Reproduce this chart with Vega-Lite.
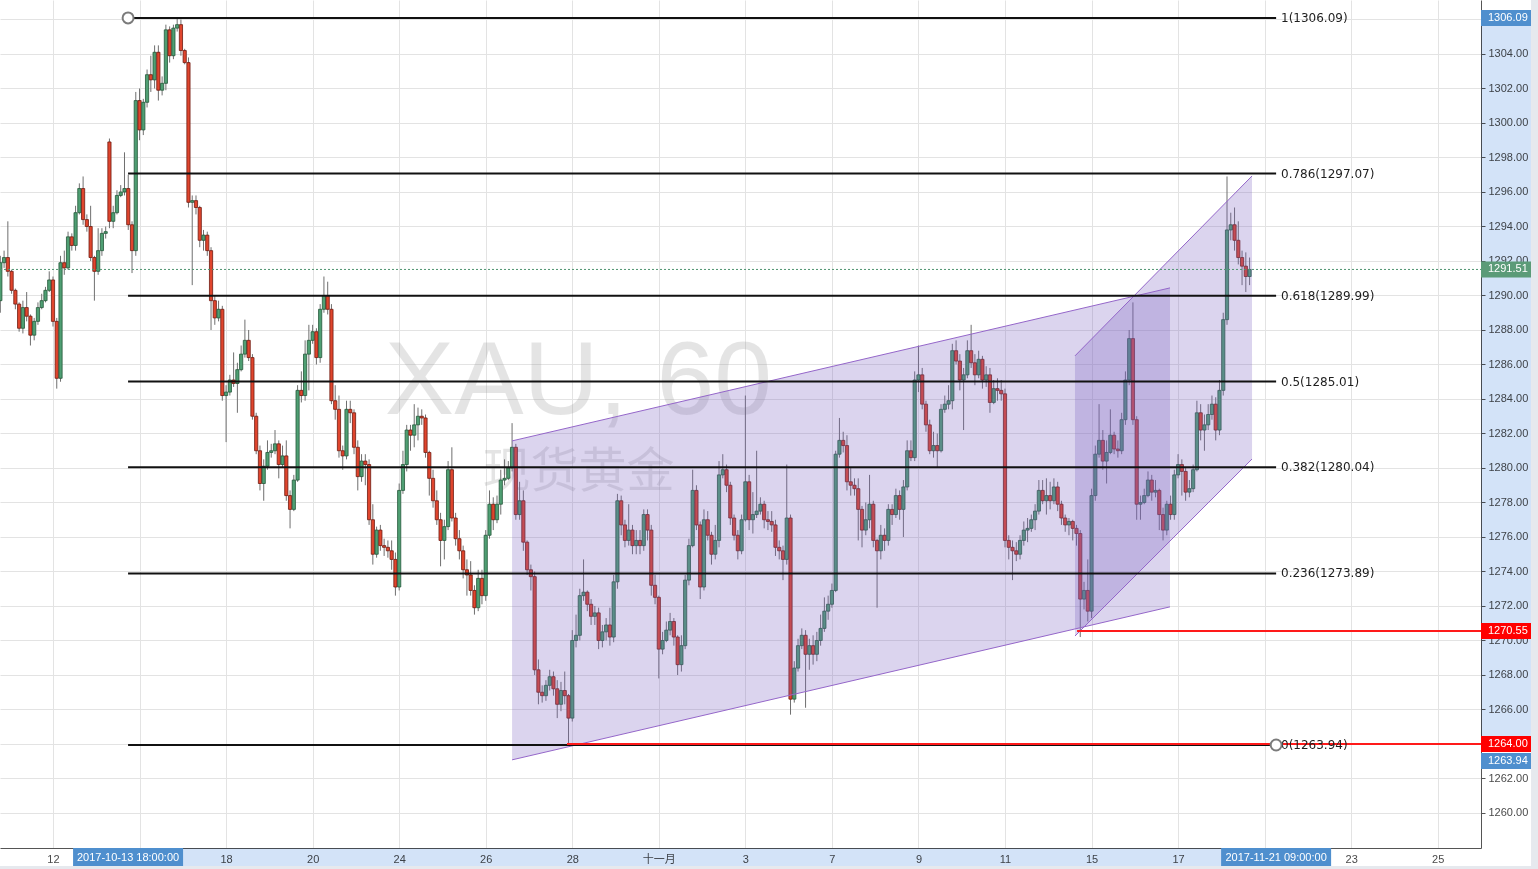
{
"$schema":"https://vega.github.io/schema/vega-lite/v6.json",
"width":1481,"height":848,
"autosize":{"type":"none"},
"padding":{"left":0,"top":0,"right":57,"bottom":21},
"background":"#ffffff",
"config":{"view":{"stroke":null},"axis":{"title":null,"domainColor":"#555555","tickColor":"#555555","labelColor":"#4a4a4a","labelFont":"Liberation Sans, Noto Sans CJK SC","labelFontSize":11,"gridColor":"#e3e3e3","gridWidth":1,"labelOverlap":false},"axisY":{"labelOverlap":false,"labelBound":false}},
"datasets":{
"candles":[
{"t":-28,"o":1289.7,"h":1292.3,"l":1289.0,"c":1291.9},
{"t":-26,"o":1291.9,"h":1292.6,"l":1291.6,"c":1292.2},
{"t":-24,"o":1292.2,"h":1294.3,"l":1291.1,"c":1291.4},
{"t":-22,"o":1291.4,"h":1291.5,"l":1290.1,"c":1290.3},
{"t":-20,"o":1290.3,"h":1290.4,"l":1289.2,"c":1289.5},
{"t":-18,"o":1289.5,"h":1289.6,"l":1287.9,"c":1288.1},
{"t":-16,"o":1288.1,"h":1289.7,"l":1287.8,"c":1289.3},
{"t":-14,"o":1289.3,"h":1290.2,"l":1288.5,"c":1288.8},
{"t":-12,"o":1288.8,"h":1288.9,"l":1287.1,"c":1287.7},
{"t":-10,"o":1287.7,"h":1288.7,"l":1287.4,"c":1288.5},
{"t":-8,"o":1288.5,"h":1289.6,"l":1288.3,"c":1289.3},
{"t":-6,"o":1289.3,"h":1290.1,"l":1289.2,"c":1289.7},
{"t":-4,"o":1289.7,"h":1290.5,"l":1289.6,"c":1290.3},
{"t":-2,"o":1290.3,"h":1291.4,"l":1290.2,"c":1290.9},
{"t":0,"o":1290.9,"h":1291.1,"l":1288.2,"c":1288.5},
{"t":2,"o":1288.5,"h":1288.7,"l":1284.6,"c":1285.2},
{"t":4,"o":1285.2,"h":1292.3,"l":1285.0,"c":1291.9},
{"t":6,"o":1291.9,"h":1292.6,"l":1291.2,"c":1291.6},
{"t":8,"o":1291.6,"h":1293.7,"l":1291.5,"c":1293.4},
{"t":10,"o":1293.4,"h":1293.6,"l":1292.6,"c":1292.9},
{"t":12,"o":1292.9,"h":1295.2,"l":1292.6,"c":1294.8},
{"t":14,"o":1294.8,"h":1296.5,"l":1294.7,"c":1296.2},
{"t":16,"o":1296.2,"h":1296.9,"l":1294.1,"c":1294.4},
{"t":18,"o":1294.4,"h":1294.7,"l":1293.7,"c":1294.0},
{"t":20,"o":1294.0,"h":1295.2,"l":1292.0,"c":1292.2},
{"t":22,"o":1292.2,"h":1292.3,"l":1289.7,"c":1291.4},
{"t":24,"o":1291.4,"h":1293.9,"l":1291.2,"c":1292.6},
{"t":26,"o":1292.6,"h":1293.9,"l":1292.3,"c":1293.6},
{"t":28,"o":1293.6,"h":1294.0,"l":1293.3,"c":1293.7},
{"t":30,"o":1298.9,"h":1299.1,"l":1293.9,"c":1294.3},
{"t":32,"o":1294.3,"h":1295.2,"l":1293.9,"c":1294.8},
{"t":34,"o":1294.8,"h":1296.1,"l":1294.7,"c":1295.8},
{"t":36,"o":1295.8,"h":1296.4,"l":1295.7,"c":1296.0},
{"t":38,"o":1296.0,"h":1298.3,"l":1295.8,"c":1296.2},
{"t":40,"o":1296.2,"h":1297.0,"l":1293.8,"c":1294.1},
{"t":42,"o":1294.1,"h":1294.3,"l":1291.3,"c":1292.6},
{"t":44,"o":1292.6,"h":1301.8,"l":1292.3,"c":1301.3},
{"t":46,"o":1301.3,"h":1302.0,"l":1299.0,"c":1299.6},
{"t":48,"o":1299.6,"h":1301.4,"l":1299.3,"c":1301.2},
{"t":50,"o":1301.2,"h":1303.1,"l":1300.9,"c":1302.8},
{"t":52,"o":1302.8,"h":1303.9,"l":1301.8,"c":1302.5},
{"t":54,"o":1302.5,"h":1304.5,"l":1302.0,"c":1304.1},
{"t":56,"o":1304.1,"h":1304.5,"l":1301.3,"c":1301.9},
{"t":58,"o":1301.9,"h":1302.7,"l":1301.6,"c":1302.3},
{"t":60,"o":1302.3,"h":1305.7,"l":1301.9,"c":1305.4},
{"t":62,"o":1305.4,"h":1305.6,"l":1303.5,"c":1303.9},
{"t":64,"o":1303.9,"h":1305.7,"l":1303.7,"c":1305.5},
{"t":66,"o":1305.5,"h":1306.09,"l":1305.3,"c":1305.7},
{"t":68,"o":1305.7,"h":1306.0,"l":1303.9,"c":1304.2},
{"t":70,"o":1304.2,"h":1304.3,"l":1303.4,"c":1303.5},
{"t":72,"o":1303.5,"h":1303.8,"l":1295.1,"c":1295.4},
{"t":74,"o":1295.4,"h":1295.8,"l":1290.6,"c":1295.5},
{"t":76,"o":1295.5,"h":1295.8,"l":1294.7,"c":1295.1},
{"t":78,"o":1295.1,"h":1295.2,"l":1292.8,"c":1293.2},
{"t":80,"o":1293.2,"h":1293.8,"l":1292.6,"c":1293.5},
{"t":82,"o":1293.5,"h":1293.7,"l":1292.3,"c":1292.6},
{"t":84,"o":1292.6,"h":1292.8,"l":1288.0,"c":1289.7},
{"t":86,"o":1289.7,"h":1290.0,"l":1288.3,"c":1288.7},
{"t":88,"o":1288.7,"h":1289.7,"l":1288.5,"c":1289.2},
{"t":90,"o":1289.2,"h":1289.4,"l":1283.9,"c":1284.2},
{"t":92,"o":1284.2,"h":1284.8,"l":1281.5,"c":1284.4},
{"t":94,"o":1284.4,"h":1285.4,"l":1284.2,"c":1285.1},
{"t":96,"o":1285.1,"h":1286.7,"l":1284.7,"c":1284.9},
{"t":98,"o":1284.9,"h":1286.1,"l":1283.2,"c":1285.7},
{"t":100,"o":1285.7,"h":1287.1,"l":1285.6,"c":1286.6},
{"t":102,"o":1286.6,"h":1288.6,"l":1286.4,"c":1287.4},
{"t":104,"o":1287.4,"h":1288.0,"l":1286.2,"c":1286.4},
{"t":106,"o":1286.4,"h":1286.6,"l":1282.8,"c":1283.0},
{"t":108,"o":1283.0,"h":1283.2,"l":1280.8,"c":1281.0},
{"t":110,"o":1281.0,"h":1281.3,"l":1278.7,"c":1279.1},
{"t":112,"o":1279.1,"h":1280.5,"l":1278.1,"c":1280.1},
{"t":114,"o":1280.1,"h":1281.6,"l":1279.9,"c":1280.9},
{"t":116,"o":1280.9,"h":1281.4,"l":1280.6,"c":1281.0},
{"t":118,"o":1281.0,"h":1282.2,"l":1280.8,"c":1281.4},
{"t":120,"o":1281.4,"h":1281.6,"l":1279.4,"c":1280.2},
{"t":122,"o":1280.2,"h":1281.3,"l":1280.0,"c":1280.7},
{"t":124,"o":1280.7,"h":1281.6,"l":1278.1,"c":1278.4},
{"t":126,"o":1278.4,"h":1278.7,"l":1276.5,"c":1277.6},
{"t":128,"o":1277.6,"h":1279.6,"l":1277.5,"c":1279.3},
{"t":130,"o":1279.3,"h":1284.8,"l":1279.2,"c":1284.5},
{"t":132,"o":1284.5,"h":1285.6,"l":1283.8,"c":1284.2},
{"t":134,"o":1284.2,"h":1287.4,"l":1283.9,"c":1286.6},
{"t":136,"o":1286.6,"h":1288.3,"l":1284.5,"c":1287.4},
{"t":138,"o":1287.4,"h":1288.3,"l":1287.2,"c":1287.9},
{"t":140,"o":1287.9,"h":1288.1,"l":1286.0,"c":1286.4},
{"t":142,"o":1286.4,"h":1289.5,"l":1286.1,"c":1289.2},
{"t":144,"o":1289.2,"h":1291.1,"l":1289.0,"c":1290.0},
{"t":146,"o":1290.0,"h":1290.8,"l":1288.9,"c":1289.2},
{"t":148,"o":1289.2,"h":1289.5,"l":1283.7,"c":1283.9},
{"t":150,"o":1283.9,"h":1284.8,"l":1282.8,"c":1283.4},
{"t":152,"o":1283.4,"h":1284.2,"l":1280.6,"c":1281.0},
{"t":154,"o":1281.0,"h":1281.3,"l":1279.9,"c":1280.7},
{"t":156,"o":1280.7,"h":1283.9,"l":1280.5,"c":1283.4},
{"t":158,"o":1283.4,"h":1283.9,"l":1282.6,"c":1283.2},
{"t":160,"o":1283.2,"h":1283.4,"l":1280.8,"c":1281.2},
{"t":162,"o":1281.2,"h":1281.6,"l":1278.7,"c":1279.5},
{"t":164,"o":1279.5,"h":1280.8,"l":1279.2,"c":1280.4},
{"t":166,"o":1280.4,"h":1280.8,"l":1279.0,"c":1280.2},
{"t":168,"o":1280.2,"h":1280.5,"l":1276.7,"c":1277.0},
{"t":170,"o":1277.0,"h":1277.9,"l":1274.4,"c":1275.0},
{"t":172,"o":1275.0,"h":1276.6,"l":1274.8,"c":1276.4},
{"t":174,"o":1276.4,"h":1276.7,"l":1275.2,"c":1275.5},
{"t":176,"o":1275.5,"h":1275.9,"l":1274.9,"c":1275.4},
{"t":178,"o":1275.4,"h":1275.8,"l":1274.8,"c":1275.2},
{"t":180,"o":1275.2,"h":1275.8,"l":1274.1,"c":1274.7},
{"t":182,"o":1274.7,"h":1275.1,"l":1272.6,"c":1273.1},
{"t":184,"o":1273.1,"h":1279.1,"l":1272.9,"c":1278.7},
{"t":186,"o":1278.7,"h":1281.0,"l":1278.5,"c":1280.2},
{"t":188,"o":1280.2,"h":1282.5,"l":1279.8,"c":1282.2},
{"t":190,"o":1282.2,"h":1282.5,"l":1281.0,"c":1281.9},
{"t":192,"o":1281.9,"h":1283.7,"l":1281.2,"c":1282.5},
{"t":194,"o":1282.5,"h":1283.5,"l":1281.6,"c":1283.0},
{"t":196,"o":1283.0,"h":1283.4,"l":1282.5,"c":1282.9},
{"t":198,"o":1282.9,"h":1283.1,"l":1280.6,"c":1280.9},
{"t":200,"o":1280.9,"h":1281.0,"l":1278.4,"c":1279.4},
{"t":202,"o":1279.4,"h":1279.9,"l":1277.7,"c":1278.1},
{"t":204,"o":1278.1,"h":1278.7,"l":1276.7,"c":1277.0},
{"t":206,"o":1277.0,"h":1277.4,"l":1274.3,"c":1275.8},
{"t":208,"o":1275.8,"h":1277.0,"l":1274.7,"c":1276.6},
{"t":210,"o":1276.6,"h":1280.4,"l":1276.4,"c":1279.9},
{"t":212,"o":1279.9,"h":1281.2,"l":1276.9,"c":1277.1},
{"t":214,"o":1277.1,"h":1277.4,"l":1275.5,"c":1275.9},
{"t":216,"o":1275.9,"h":1276.4,"l":1274.7,"c":1275.2},
{"t":218,"o":1275.2,"h":1275.5,"l":1273.6,"c":1274.1},
{"t":220,"o":1274.1,"h":1274.7,"l":1272.6,"c":1273.8},
{"t":222,"o":1273.8,"h":1274.6,"l":1272.6,"c":1272.9},
{"t":224,"o":1272.9,"h":1273.2,"l":1271.5,"c":1271.9},
{"t":226,"o":1271.9,"h":1274.1,"l":1271.7,"c":1273.6},
{"t":228,"o":1273.6,"h":1274.1,"l":1272.1,"c":1272.6},
{"t":230,"o":1272.6,"h":1276.4,"l":1272.3,"c":1276.1},
{"t":232,"o":1276.1,"h":1278.7,"l":1275.9,"c":1277.9},
{"t":234,"o":1277.9,"h":1278.3,"l":1276.4,"c":1277.0},
{"t":236,"o":1277.0,"h":1278.4,"l":1276.8,"c":1277.9},
{"t":238,"o":1277.9,"h":1279.9,"l":1277.3,"c":1279.3},
{"t":240,"o":1279.3,"h":1280.5,"l":1279.0,"c":1279.4},
{"t":242,"o":1279.4,"h":1280.4,"l":1279.3,"c":1280.0},
{"t":244,"o":1280.0,"h":1282.6,"l":1279.8,"c":1281.2},
{"t":246,"o":1281.2,"h":1281.4,"l":1277.0,"c":1277.3},
{"t":248,"o":1277.3,"h":1279.2,"l":1277.0,"c":1278.1},
{"t":250,"o":1278.1,"h":1278.7,"l":1275.2,"c":1275.7},
{"t":252,"o":1275.7,"h":1275.8,"l":1273.8,"c":1274.1},
{"t":254,"o":1274.1,"h":1274.4,"l":1272.9,"c":1273.7},
{"t":256,"o":1273.7,"h":1274.0,"l":1268.0,"c":1268.3},
{"t":258,"o":1268.3,"h":1268.9,"l":1266.3,"c":1267.0},
{"t":260,"o":1267.0,"h":1267.4,"l":1266.4,"c":1266.8},
{"t":262,"o":1266.8,"h":1267.7,"l":1266.5,"c":1267.4},
{"t":264,"o":1267.4,"h":1268.3,"l":1267.1,"c":1267.9},
{"t":266,"o":1267.9,"h":1268.2,"l":1266.8,"c":1267.2},
{"t":268,"o":1267.2,"h":1267.7,"l":1265.5,"c":1266.3},
{"t":270,"o":1266.3,"h":1267.6,"l":1265.9,"c":1267.1},
{"t":272,"o":1267.1,"h":1268.2,"l":1266.3,"c":1266.8},
{"t":274,"o":1266.8,"h":1266.9,"l":1263.94,"c":1265.5},
{"t":276,"o":1265.5,"h":1270.6,"l":1265.3,"c":1270.0},
{"t":278,"o":1270.0,"h":1271.5,"l":1269.6,"c":1270.3},
{"t":280,"o":1270.3,"h":1273.0,"l":1270.0,"c":1272.6},
{"t":282,"o":1272.6,"h":1274.7,"l":1272.3,"c":1272.8},
{"t":284,"o":1272.8,"h":1272.9,"l":1271.7,"c":1272.1},
{"t":286,"o":1272.1,"h":1272.4,"l":1270.9,"c":1271.4},
{"t":288,"o":1271.4,"h":1272.0,"l":1270.9,"c":1271.6},
{"t":290,"o":1271.6,"h":1271.9,"l":1269.5,"c":1270.0},
{"t":292,"o":1270.0,"h":1270.9,"l":1269.6,"c":1270.5},
{"t":294,"o":1270.5,"h":1271.3,"l":1270.0,"c":1270.9},
{"t":296,"o":1270.9,"h":1271.9,"l":1269.7,"c":1270.2},
{"t":298,"o":1270.2,"h":1273.8,"l":1269.9,"c":1273.4},
{"t":300,"o":1273.4,"h":1278.5,"l":1273.0,"c":1278.1},
{"t":302,"o":1278.1,"h":1278.4,"l":1276.1,"c":1276.7},
{"t":304,"o":1276.7,"h":1277.0,"l":1275.4,"c":1275.8},
{"t":306,"o":1275.8,"h":1277.9,"l":1275.5,"c":1276.4},
{"t":308,"o":1276.4,"h":1276.7,"l":1275.0,"c":1275.5},
{"t":310,"o":1275.5,"h":1276.4,"l":1275.0,"c":1275.8},
{"t":312,"o":1275.8,"h":1276.4,"l":1275.0,"c":1275.5},
{"t":314,"o":1275.5,"h":1277.6,"l":1275.2,"c":1277.3},
{"t":316,"o":1277.3,"h":1277.6,"l":1275.8,"c":1276.4},
{"t":318,"o":1276.4,"h":1276.7,"l":1272.6,"c":1273.2},
{"t":320,"o":1273.2,"h":1273.8,"l":1272.1,"c":1272.5},
{"t":322,"o":1272.5,"h":1272.6,"l":1267.8,"c":1269.5},
{"t":324,"o":1269.5,"h":1270.5,"l":1269.2,"c":1270.0},
{"t":326,"o":1270.0,"h":1271.1,"l":1269.9,"c":1270.6},
{"t":328,"o":1270.6,"h":1271.6,"l":1270.3,"c":1271.1},
{"t":330,"o":1271.1,"h":1271.3,"l":1269.7,"c":1270.2},
{"t":332,"o":1270.2,"h":1270.3,"l":1268.0,"c":1268.6},
{"t":334,"o":1268.6,"h":1270.3,"l":1268.2,"c":1269.7},
{"t":336,"o":1269.7,"h":1273.8,"l":1269.5,"c":1273.5},
{"t":338,"o":1273.5,"h":1275.9,"l":1273.2,"c":1275.5},
{"t":340,"o":1275.5,"h":1279.9,"l":1275.4,"c":1278.7},
{"t":342,"o":1278.7,"h":1279.0,"l":1276.4,"c":1276.7},
{"t":344,"o":1276.7,"h":1276.9,"l":1272.4,"c":1273.1},
{"t":346,"o":1273.1,"h":1277.6,"l":1272.9,"c":1277.0},
{"t":348,"o":1277.0,"h":1277.5,"l":1275.8,"c":1276.1},
{"t":350,"o":1276.1,"h":1276.3,"l":1274.4,"c":1275.0},
{"t":352,"o":1275.0,"h":1276.7,"l":1274.7,"c":1275.8},
{"t":354,"o":1275.8,"h":1280.4,"l":1275.4,"c":1279.6},
{"t":356,"o":1279.6,"h":1280.8,"l":1279.4,"c":1279.9},
{"t":358,"o":1279.9,"h":1280.2,"l":1278.6,"c":1279.0},
{"t":360,"o":1279.0,"h":1279.2,"l":1276.7,"c":1277.1},
{"t":362,"o":1277.1,"h":1277.3,"l":1275.8,"c":1276.1},
{"t":364,"o":1276.1,"h":1276.4,"l":1274.7,"c":1275.2},
{"t":366,"o":1275.2,"h":1277.3,"l":1275.0,"c":1277.0},
{"t":368,"o":1277.0,"h":1284.2,"l":1276.9,"c":1279.2},
{"t":370,"o":1279.2,"h":1279.6,"l":1276.4,"c":1277.0},
{"t":372,"o":1277.0,"h":1278.6,"l":1276.2,"c":1277.3},
{"t":374,"o":1277.3,"h":1281.0,"l":1277.1,"c":1277.5},
{"t":376,"o":1277.5,"h":1278.3,"l":1277.3,"c":1277.9},
{"t":378,"o":1277.9,"h":1278.1,"l":1276.5,"c":1277.0},
{"t":380,"o":1277.0,"h":1277.5,"l":1276.4,"c":1276.9},
{"t":382,"o":1276.9,"h":1277.5,"l":1276.3,"c":1276.7},
{"t":384,"o":1276.7,"h":1277.0,"l":1274.9,"c":1275.4},
{"t":386,"o":1275.4,"h":1275.8,"l":1274.7,"c":1275.2},
{"t":388,"o":1275.2,"h":1275.5,"l":1273.5,"c":1274.7},
{"t":390,"o":1274.7,"h":1280.2,"l":1274.4,"c":1277.1},
{"t":392,"o":1277.1,"h":1277.3,"l":1265.7,"c":1266.6},
{"t":394,"o":1266.6,"h":1268.8,"l":1266.4,"c":1268.4},
{"t":396,"o":1268.4,"h":1270.1,"l":1268.2,"c":1269.7},
{"t":398,"o":1269.7,"h":1270.7,"l":1269.5,"c":1270.3},
{"t":400,"o":1270.3,"h":1270.6,"l":1266.1,"c":1269.2},
{"t":402,"o":1269.2,"h":1270.1,"l":1268.3,"c":1269.7},
{"t":404,"o":1269.7,"h":1270.3,"l":1268.6,"c":1269.2},
{"t":406,"o":1269.2,"h":1270.5,"l":1268.8,"c":1270.0},
{"t":408,"o":1270.0,"h":1271.5,"l":1269.7,"c":1270.7},
{"t":410,"o":1270.7,"h":1272.5,"l":1270.5,"c":1271.7},
{"t":412,"o":1271.7,"h":1272.6,"l":1271.2,"c":1272.1},
{"t":414,"o":1272.1,"h":1273.3,"l":1271.9,"c":1272.9},
{"t":416,"o":1272.9,"h":1281.0,"l":1272.8,"c":1280.8},
{"t":418,"o":1280.8,"h":1282.9,"l":1280.6,"c":1281.6},
{"t":420,"o":1281.6,"h":1282.1,"l":1280.9,"c":1281.3},
{"t":422,"o":1281.3,"h":1281.9,"l":1278.7,"c":1279.2},
{"t":424,"o":1279.2,"h":1280.0,"l":1278.4,"c":1279.0},
{"t":426,"o":1279.0,"h":1279.4,"l":1278.4,"c":1278.8},
{"t":428,"o":1278.8,"h":1279.4,"l":1275.8,"c":1277.6},
{"t":430,"o":1277.6,"h":1277.8,"l":1275.4,"c":1276.4},
{"t":432,"o":1276.4,"h":1278.0,"l":1276.1,"c":1277.0},
{"t":434,"o":1277.0,"h":1279.6,"l":1276.5,"c":1277.9},
{"t":436,"o":1277.9,"h":1278.1,"l":1275.4,"c":1275.8},
{"t":438,"o":1275.8,"h":1275.9,"l":1271.9,"c":1275.2},
{"t":440,"o":1275.2,"h":1276.7,"l":1274.7,"c":1276.1},
{"t":442,"o":1276.1,"h":1276.5,"l":1275.2,"c":1275.8},
{"t":444,"o":1275.8,"h":1277.9,"l":1275.5,"c":1277.6},
{"t":446,"o":1277.6,"h":1277.9,"l":1276.7,"c":1277.3},
{"t":448,"o":1277.3,"h":1278.8,"l":1277.1,"c":1278.4},
{"t":450,"o":1278.4,"h":1278.7,"l":1277.0,"c":1277.6},
{"t":452,"o":1277.6,"h":1279.3,"l":1276.0,"c":1278.9},
{"t":454,"o":1278.9,"h":1281.6,"l":1278.7,"c":1281.0},
{"t":456,"o":1281.0,"h":1281.6,"l":1280.4,"c":1280.6},
{"t":458,"o":1280.6,"h":1285.6,"l":1280.4,"c":1285.1},
{"t":460,"o":1285.1,"h":1287.1,"l":1284.4,"c":1285.4},
{"t":462,"o":1285.4,"h":1285.8,"l":1283.4,"c":1283.7},
{"t":464,"o":1283.7,"h":1283.9,"l":1282.1,"c":1282.5},
{"t":466,"o":1282.5,"h":1282.8,"l":1280.8,"c":1281.0},
{"t":468,"o":1281.0,"h":1282.1,"l":1280.6,"c":1281.3},
{"t":470,"o":1281.3,"h":1282.0,"l":1280.0,"c":1281.0},
{"t":472,"o":1281.0,"h":1283.7,"l":1280.9,"c":1283.4},
{"t":474,"o":1283.4,"h":1284.2,"l":1283.2,"c":1283.7},
{"t":476,"o":1283.7,"h":1284.8,"l":1283.4,"c":1283.9},
{"t":478,"o":1283.9,"h":1287.2,"l":1283.4,"c":1286.8},
{"t":480,"o":1286.8,"h":1287.4,"l":1286.0,"c":1286.2},
{"t":482,"o":1286.2,"h":1286.6,"l":1284.5,"c":1285.1},
{"t":484,"o":1285.1,"h":1285.8,"l":1282.2,"c":1285.4},
{"t":486,"o":1285.4,"h":1287.4,"l":1285.2,"c":1286.8},
{"t":488,"o":1286.8,"h":1288.3,"l":1285.8,"c":1286.1},
{"t":490,"o":1286.1,"h":1286.6,"l":1284.8,"c":1285.4},
{"t":492,"o":1285.4,"h":1286.8,"l":1285.2,"c":1286.3},
{"t":494,"o":1286.3,"h":1286.5,"l":1284.6,"c":1285.1},
{"t":496,"o":1285.1,"h":1285.9,"l":1284.7,"c":1285.4},
{"t":498,"o":1285.4,"h":1285.8,"l":1283.2,"c":1283.8},
{"t":500,"o":1283.8,"h":1285.1,"l":1283.7,"c":1284.6},
{"t":502,"o":1284.6,"h":1285.2,"l":1283.9,"c":1284.5},
{"t":504,"o":1284.5,"h":1285.1,"l":1283.9,"c":1284.3},
{"t":506,"o":1284.3,"h":1284.6,"l":1275.4,"c":1275.8},
{"t":508,"o":1275.8,"h":1276.1,"l":1274.7,"c":1275.4},
{"t":510,"o":1275.4,"h":1275.8,"l":1273.5,"c":1275.2},
{"t":512,"o":1275.2,"h":1275.7,"l":1274.6,"c":1275.0},
{"t":514,"o":1275.0,"h":1276.1,"l":1274.7,"c":1275.8},
{"t":516,"o":1275.8,"h":1276.9,"l":1275.5,"c":1276.4},
{"t":518,"o":1276.4,"h":1277.1,"l":1275.7,"c":1276.5},
{"t":520,"o":1276.5,"h":1277.3,"l":1276.3,"c":1277.0},
{"t":522,"o":1277.0,"h":1277.9,"l":1276.4,"c":1277.5},
{"t":524,"o":1277.5,"h":1279.3,"l":1277.3,"c":1278.7},
{"t":526,"o":1278.7,"h":1279.3,"l":1277.9,"c":1278.1},
{"t":528,"o":1278.1,"h":1279.4,"l":1277.3,"c":1278.4},
{"t":530,"o":1278.4,"h":1279.2,"l":1277.6,"c":1278.1},
{"t":532,"o":1278.1,"h":1279.4,"l":1277.9,"c":1278.9},
{"t":534,"o":1278.9,"h":1279.2,"l":1277.5,"c":1277.9},
{"t":536,"o":1277.9,"h":1278.1,"l":1276.7,"c":1277.1},
{"t":538,"o":1277.1,"h":1277.3,"l":1276.3,"c":1276.7},
{"t":540,"o":1276.7,"h":1277.1,"l":1276.1,"c":1276.9},
{"t":542,"o":1276.9,"h":1277.0,"l":1275.8,"c":1276.5},
{"t":544,"o":1276.5,"h":1276.7,"l":1275.5,"c":1276.2},
{"t":546,"o":1276.2,"h":1276.4,"l":1270.2,"c":1272.4},
{"t":548,"o":1272.4,"h":1273.4,"l":1271.8,"c":1272.9},
{"t":550,"o":1272.9,"h":1274.7,"l":1271.1,"c":1271.7},
{"t":552,"o":1271.7,"h":1278.8,"l":1271.3,"c":1278.4},
{"t":554,"o":1278.4,"h":1281.3,"l":1278.1,"c":1280.8},
{"t":556,"o":1280.8,"h":1283.7,"l":1280.6,"c":1281.6},
{"t":558,"o":1281.6,"h":1282.2,"l":1279.9,"c":1280.4},
{"t":560,"o":1280.4,"h":1281.6,"l":1279.1,"c":1280.9},
{"t":562,"o":1280.9,"h":1283.4,"l":1280.8,"c":1281.9},
{"t":564,"o":1281.9,"h":1282.1,"l":1280.8,"c":1281.1},
{"t":566,"o":1281.1,"h":1281.6,"l":1280.6,"c":1281.0},
{"t":568,"o":1281.0,"h":1283.2,"l":1280.8,"c":1282.8},
{"t":570,"o":1282.8,"h":1285.6,"l":1282.5,"c":1285.1},
{"t":572,"o":1285.1,"h":1288.0,"l":1284.8,"c":1287.5},
{"t":574,"o":1287.5,"h":1289.6,"l":1282.5,"c":1282.8},
{"t":576,"o":1282.8,"h":1283.0,"l":1277.0,"c":1277.9},
{"t":578,"o":1277.9,"h":1278.4,"l":1277.0,"c":1278.0},
{"t":580,"o":1278.0,"h":1278.8,"l":1277.9,"c":1278.4},
{"t":582,"o":1278.4,"h":1279.8,"l":1278.3,"c":1279.3},
{"t":584,"o":1279.3,"h":1279.6,"l":1278.1,"c":1278.6},
{"t":586,"o":1278.6,"h":1279.3,"l":1278.3,"c":1278.7},
{"t":588,"o":1278.7,"h":1278.8,"l":1276.4,"c":1277.3},
{"t":590,"o":1277.3,"h":1277.7,"l":1275.8,"c":1276.4},
{"t":592,"o":1276.4,"h":1278.1,"l":1276.1,"c":1277.9},
{"t":594,"o":1277.9,"h":1278.4,"l":1277.0,"c":1277.3},
{"t":596,"o":1277.3,"h":1279.9,"l":1277.0,"c":1279.6},
{"t":598,"o":1279.6,"h":1280.8,"l":1279.4,"c":1280.2},
{"t":600,"o":1280.2,"h":1280.5,"l":1278.4,"c":1279.8},
{"t":602,"o":1279.8,"h":1280.0,"l":1278.1,"c":1278.6},
{"t":604,"o":1278.6,"h":1279.3,"l":1278.3,"c":1278.8},
{"t":606,"o":1278.8,"h":1280.2,"l":1278.6,"c":1279.9},
{"t":608,"o":1279.9,"h":1283.9,"l":1279.8,"c":1283.2},
{"t":610,"o":1283.2,"h":1283.7,"l":1281.6,"c":1282.2},
{"t":612,"o":1282.2,"h":1283.1,"l":1281.0,"c":1282.5},
{"t":614,"o":1282.5,"h":1283.7,"l":1282.2,"c":1283.1},
{"t":616,"o":1283.1,"h":1284.2,"l":1282.8,"c":1283.7},
{"t":618,"o":1283.7,"h":1284.1,"l":1281.6,"c":1282.2},
{"t":620,"o":1282.2,"h":1285.1,"l":1281.9,"c":1284.5},
{"t":622,"o":1284.5,"h":1289.0,"l":1284.2,"c":1288.6},
{"t":624,"o":1288.6,"h":1296.9,"l":1288.3,"c":1293.8},
{"t":626,"o":1293.8,"h":1294.8,"l":1293.2,"c":1294.1},
{"t":628,"o":1294.1,"h":1295.1,"l":1292.6,"c":1293.2},
{"t":630,"o":1293.2,"h":1294.3,"l":1291.8,"c":1292.2},
{"t":632,"o":1292.2,"h":1292.6,"l":1290.6,"c":1291.7},
{"t":634,"o":1291.7,"h":1292.5,"l":1290.2,"c":1291.1},
{"t":636,"o":1291.1,"h":1292.2,"l":1290.6,"c":1291.51}
],
"fib":[
{"p":1306.09,"lab":"1(1306.09)"},
{"p":1297.07,"lab":"0.786(1297.07)"},
{"p":1289.99,"lab":"0.618(1289.99)"},
{"p":1285.01,"lab":"0.5(1285.01)"},
{"p":1280.04,"lab":"0.382(1280.04)"},
{"p":1273.89,"lab":"0.236(1273.89)"},
{"p":1263.94,"lab":"0(1263.94)"}
],
"channels":[
{"ch":1,"t":244.0,"top":1281.57,"bot":1263.08},
{"ch":1,"t":593.7,"top":1290.44,"bot":1271.95},
{"ch":2,"t":543.2,"top":1286.50,"bot":1270.26},
{"ch":2,"t":637.3,"top":1296.93,"bot":1280.52}
],
"anchors":[
{"t":39.9,"p":1306.09,"lab":"2017-10-13 18:00:00"},
{"t":650.1,"p":1263.94,"lab":"2017-11-21 09:00:00"}
],
"alerts":[
{"p":1270.55,"t0":544.3},
{"p":1264.00,"t0":273.2}
],
"pricetags":[
{"p":1306.09,"lab":"1306.09","kind":"fib"},
{"p":1291.51,"lab":"1291.51","kind":"last"},
{"p":1270.55,"lab":"1270.55","kind":"alert"},
{"p":1264.00,"lab":"1264.00","kind":"alert"}
],
"pricetag2":[
{"p":1263.94,"lab":"1263.94","kind":"fib"}
]
},
"layer":[
{
"data":{"values":[{"t":279.3,"p":1283.13,"lab":"XAU, 60"}]},
"mark":{"type":"text","font":"Liberation Sans","fontSize":104,"align":"center","baseline":"alphabetic","color":"#8a8a8a","opacity":0.22},
"encoding":{
"x":{"field":"t","type":"quantitative","scale":{"domain":[-28.17,759],"nice":false,"zero":false,"padding":0},
"axis":{"orient":"bottom","title":null,"values":[0,46,92,138,184,230,276,322,368,414,460,506,552,598,644,690,736],"tickCount":40,
"labelExpr":"datum.value==0?'12':datum.value==92?'18':datum.value==138?'20':datum.value==184?'24':datum.value==230?'26':datum.value==276?'28':datum.value==322?'十一月':datum.value==368?'3':datum.value==414?'7':datum.value==460?'9':datum.value==506?'11':datum.value==552?'15':datum.value==598?'17':datum.value==690?'23':datum.value==736?'25':''",
"grid":true,"tickSize":0,"labelPadding":5,"labelFlush":false,"labelOverlap":false,"zindex":0}},
"y":{"field":"p","type":"quantitative","scale":{"domain":[1257.97,1307.13],"nice":false,"zero":false,"padding":0},
"axis":{"orient":"right","title":null,"values":[1260,1262,1264,1266,1268,1270,1272,1274,1276,1278,1280,1282,1284,1286,1288,1290,1292,1294,1296,1298,1300,1302,1304,1306],"tickCount":40,
"format":".2f","grid":true,"tickSize":4,"labelPadding":3,"labelFlush":false,"labelOverlap":false,"labelBound":false,"zindex":0}},
"text":{"field":"lab"}
}
},
{
"data":{"values":[{"t":279.3,"p":1278.92,"lab":"现货黄金"}]},
"mark":{"type":"text","font":"Noto Sans CJK SC","fontSize":48,"align":"center","baseline":"alphabetic","color":"#8a8a8a","opacity":0.22},
"encoding":{"x":{"field":"t","type":"quantitative"},"y":{"field":"p","type":"quantitative"},"text":{"field":"lab"}}
},
{
"data":{"name":"candles"},
"mark":{"type":"rule","color":"#6f6f6f","strokeWidth":1,"clip":true},
"encoding":{"x":{"field":"t","type":"quantitative"},"y":{"field":"l","type":"quantitative"},"y2":{"field":"h"}}
},
{
"data":{"name":"candles"},
"mark":{"type":"bar","width":3.2,"strokeWidth":0.8,"clip":true},
"encoding":{
"x":{"field":"t","type":"quantitative"},
"y":{"field":"o","type":"quantitative"},
"y2":{"field":"c"},
"fill":{"condition":{"test":"datum.c >= datum.o","value":"#4f9f73"},"value":"#e0452d"},
"stroke":{"condition":{"test":"datum.c >= datum.o","value":"#24583a"},"value":"#6e1a10"}
}
},
{
"data":{"name":"channels"},
"mark":{"type":"area","color":"#7b5fbf","opacity":0.27},
"encoding":{"x":{"field":"t","type":"quantitative"},"y":{"field":"top","type":"quantitative"},"y2":{"field":"bot"},"detail":{"field":"ch"}}
},
{
"data":{"name":"channels"},
"mark":{"type":"line","color":"#9466c9","strokeWidth":1},
"encoding":{"x":{"field":"t","type":"quantitative"},"y":{"field":"top","type":"quantitative"},"detail":{"field":"ch"}}
},
{
"data":{"name":"channels"},
"mark":{"type":"line","color":"#9466c9","strokeWidth":1},
"encoding":{"x":{"field":"t","type":"quantitative"},"y":{"field":"bot","type":"quantitative"},"detail":{"field":"ch"}}
},
{
"data":{"name":"fib"},
"mark":{"type":"rule","color":"#111111","strokeWidth":2},
"encoding":{"x":{"datum":39.9,"type":"quantitative"},"x2":{"datum":650.1},"y":{"field":"p","type":"quantitative"}}
},
{
"data":{"name":"alerts"},
"mark":{"type":"rule","color":"#ff1a1a","strokeWidth":2},
"encoding":{"x":{"field":"t0","type":"quantitative"},"x2":{"datum":759},"y":{"field":"p","type":"quantitative"}}
},
{
"data":{"values":[{"p":1291.51}]},
"mark":{"type":"rule","color":"#4f9470","strokeWidth":1,"strokeDash":[2,2]},
"encoding":{"x":{"datum":-28.17,"type":"quantitative"},"x2":{"datum":759},"y":{"field":"p","type":"quantitative"}}
},
{
"data":{"name":"fib"},
"mark":{"type":"text","font":"DejaVu Sans","fontSize":12,"align":"left","baseline":"middle","color":"#1e1e1e"},
"encoding":{"x":{"datum":652.7,"type":"quantitative"},"y":{"field":"p","type":"quantitative"},"text":{"field":"lab"}}
},
{
"data":{"name":"anchors"},
"mark":{"type":"point","shape":"circle","filled":true,"fill":"#ffffff","stroke":"#7b7b7b","strokeWidth":2,"size":120,"opacity":1},
"encoding":{"x":{"field":"t","type":"quantitative"},"y":{"field":"p","type":"quantitative"}}
},
{
"data":{"values":[{}]},
"mark":{"type":"rect","fill":"#d3e3f8","blend":"multiply"},
"encoding":{"x":{"datum":759,"type":"quantitative"},"x2":{"datum":785.6},"y":{"datum":1306.09,"type":"quantitative"},"y2":{"datum":1263.94}}
},
{
"data":{"values":[{}]},
"mark":{"type":"rect","fill":"#d3e3f8","blend":"multiply","y2Offset":18},
"encoding":{"x":{"datum":39.9,"type":"quantitative"},"x2":{"datum":650.1},"y":{"datum":1257.97,"type":"quantitative"},"y2":{"datum":1257.97}}
},
{
"data":{"name":"anchors"},
"mark":{"type":"rect","fill":"#4f8fce","xOffset":-55,"x2Offset":55,"y2Offset":18},
"encoding":{"x":{"field":"t","type":"quantitative"},"x2":{"field":"t"},"y":{"datum":1257.97,"type":"quantitative"},"y2":{"datum":1257.97}}
},
{
"data":{"name":"anchors"},
"mark":{"type":"text","font":"Liberation Sans","fontSize":11,"align":"center","baseline":"middle","dy":10,"color":"#ffffff"},
"encoding":{"x":{"field":"t","type":"quantitative"},"y":{"datum":1257.97,"type":"quantitative"},"text":{"field":"lab"}}
},
{
"data":{"name":"pricetags"},
"mark":{"type":"rect","yOffset":-8,"y2Offset":8},
"encoding":{"x":{"datum":759,"type":"quantitative"},"x2":{"datum":785.6},"y":{"field":"p","type":"quantitative"},"y2":{"field":"p"},
"fill":{"field":"kind","type":"nominal","scale":{"domain":["fib","last","alert"],"range":["#4f8fce","#5b9b78","#ff0000"]},"legend":null}}
},
{
"data":{"name":"pricetag2"},
"mark":{"type":"rect","yOffset":8,"y2Offset":24,"fill":"#4f8fce"},
"encoding":{"x":{"datum":759,"type":"quantitative"},"x2":{"datum":785.6},"y":{"field":"p","type":"quantitative"},"y2":{"field":"p"}}
},
{
"data":{"name":"pricetags"},
"mark":{"type":"text","font":"Liberation Sans","fontSize":11,"align":"left","baseline":"middle","dx":7,"color":"#ffffff"},
"encoding":{"x":{"datum":759,"type":"quantitative"},"y":{"field":"p","type":"quantitative"},"text":{"field":"lab"}}
},
{
"data":{"name":"pricetag2"},
"mark":{"type":"text","font":"Liberation Sans","fontSize":11,"align":"left","baseline":"middle","dx":7,"dy":16,"color":"#ffffff"},
"encoding":{"x":{"datum":759,"type":"quantitative"},"y":{"field":"p","type":"quantitative"},"text":{"field":"lab"}}
},
{
"data":{"values":[{}]},
"mark":{"type":"rect","fill":"#e6e9ee"},
"encoding":{"x":{"datum":785.6,"type":"quantitative"},"x2":{"datum":792},"y":{"datum":1310,"type":"quantitative"},"y2":{"datum":1255}}
},
{
"data":{"values":[{}]},
"mark":{"type":"rect","fill":"#e6e9ee"},
"encoding":{"x":{"datum":-30,"type":"quantitative"},"x2":{"datum":792},"y":{"datum":1256.93,"type":"quantitative"},"y2":{"datum":1255}}
}
]
}
